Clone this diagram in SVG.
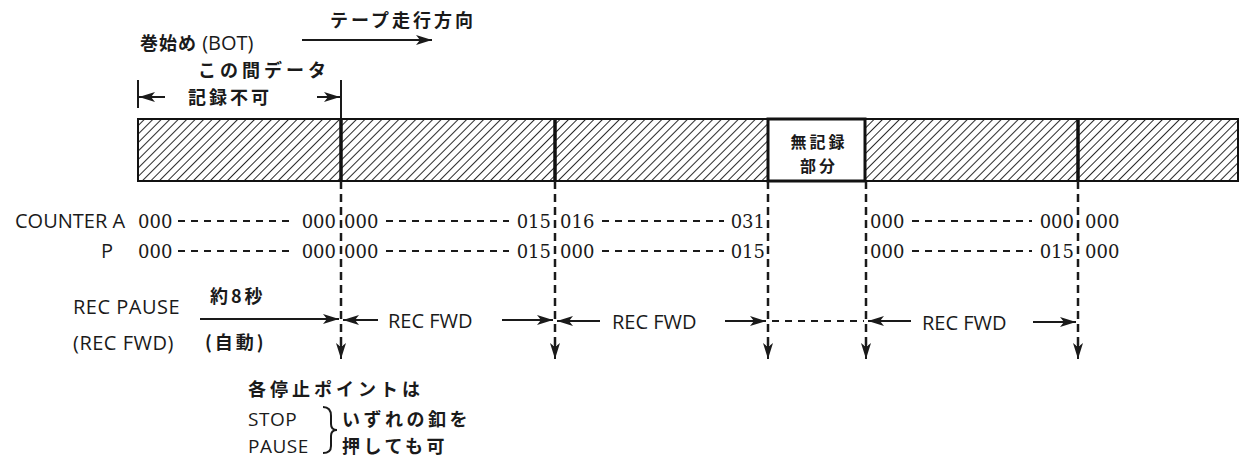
<svg xmlns="http://www.w3.org/2000/svg" width="1246" height="461" viewBox="0 0 1246 461">
<style>
.jp{font-family:"Noto Sans CJK JP","Noto Sans",sans-serif;font-size:18px;fill:#1a1a1a;font-weight:bold}
.sn{font-family:"Open Sans","Noto Sans",sans-serif;font-size:20px;fill:#1a1a1a}
.num{font-family:"DejaVu Serif","Liberation Serif",serif;font-size:18px;fill:#1a1a1a}
.thin{stroke:#1a1a1a;stroke-width:2;fill:none}
.div{stroke:#111;stroke-width:3.5}
.vd{stroke:#1a1a1a;stroke-width:2.5;stroke-dasharray:8 5;fill:none}
.hd{stroke:#1a1a1a;stroke-width:2;stroke-dasharray:7 6;fill:none}
</style>
<defs>
<pattern id="hatch" patternUnits="userSpaceOnUse" width="6" height="6" patternTransform="rotate(45)">
<rect width="6" height="6" fill="#fff"/>
<line x1="0" y1="0" x2="0" y2="6" stroke="#111" stroke-width="1.8"/>
</pattern>
<marker id="ah" viewBox="0 0 16 10" refX="16" refY="5" markerWidth="16" markerHeight="10" markerUnits="userSpaceOnUse" orient="auto">
<path d="M0,0 L16,5 L0,10 L4,5 Z" fill="#1a1a1a"/>
</marker>
</defs>

<g id="title">
<text class="jp" x="330" y="27" style="letter-spacing:3px">テープ走行方向</text>
<line class="thin" x1="302" y1="40" x2="432" y2="40" marker-end="url(#ah)"/>
</g>

<g id="bot">
<text class="jp" x="140" y="50" style="letter-spacing:1px">巻始め<tspan class="sn" style="font-weight:normal;letter-spacing:0"> (BOT)</tspan></text>
<text class="jp" x="198" y="77" style="letter-spacing:4px">この間データ</text>
<text class="jp" x="188" y="104" style="letter-spacing:3px">記録不可</text>
<line class="thin" x1="138" y1="80" x2="138" y2="108"/>
<line class="thin" x1="165" y1="97" x2="139" y2="97" marker-end="url(#ah)"/>
<line class="thin" x1="317" y1="97" x2="340" y2="97" marker-end="url(#ah)"/>
<line class="thin" x1="341" y1="80" x2="341" y2="119"/>
</g>

<g id="tape">
<rect x="138" y="119" width="1100" height="62" fill="url(#hatch)" stroke="#111" stroke-width="2"/>
<rect x="768" y="119" width="97" height="62" fill="#fff" stroke="#111" stroke-width="3"/>
<line class="div" x1="341" y1="119" x2="341" y2="181"/>
<line class="div" x1="555" y1="119" x2="555" y2="181"/>
<line class="div" x1="1078" y1="119" x2="1078" y2="181"/>
<text class="jp" x="819" y="148" text-anchor="middle" style="font-size:16px;letter-spacing:3px">無記録</text>
<text class="jp" x="819" y="172" text-anchor="middle" style="font-size:16px;letter-spacing:3px">部分</text>
</g>

<g id="counters">
<text class="sn" x="15" y="228">COUNTER A</text>
<text class="sn" x="101" y="258">P</text>
<g class="num">
<text x="138" y="228">000</text><text x="336" y="228" text-anchor="end">000</text>
<text x="344" y="228">000</text><text x="551" y="228" text-anchor="end">015</text>
<text x="560" y="228">016</text><text x="765" y="228" text-anchor="end">031</text>
<text x="870" y="228">000</text><text x="1074" y="228" text-anchor="end">000</text>
<text x="1085" y="228">000</text>
<text x="138" y="258">000</text><text x="336" y="258" text-anchor="end">000</text>
<text x="344" y="258">000</text><text x="551" y="258" text-anchor="end">015</text>
<text x="560" y="258">000</text><text x="765" y="258" text-anchor="end">015</text>
<text x="870" y="258">000</text><text x="1074" y="258" text-anchor="end">015</text>
<text x="1085" y="258">000</text>
</g>
</g>

<g id="connectors">
<path class="hd" d="M178,221 H292 M386,221 H509 M602,221 H724 M912,221 H1032 M178,251 H292 M386,251 H509 M602,251 H724 M912,251 H1032"/>
<path class="vd" d="M341,181 V346 M555,181 V346 M768,181 V346 M866,181 V346 M1078,181 V346"/>
<line class="thin" x1="341" y1="338" x2="341" y2="359" marker-end="url(#ah)"/>
<line class="thin" x1="555" y1="338" x2="555" y2="359" marker-end="url(#ah)"/>
<line class="thin" x1="768" y1="338" x2="768" y2="359" marker-end="url(#ah)"/>
<line class="thin" x1="866" y1="338" x2="866" y2="359" marker-end="url(#ah)"/>
<line class="thin" x1="1078" y1="338" x2="1078" y2="359" marker-end="url(#ah)"/>
<line class="thin" x1="200" y1="319" x2="339" y2="319" marker-end="url(#ah)"/>
<line class="thin" x1="378" y1="320" x2="343" y2="320" marker-end="url(#ah)"/>
<line class="thin" x1="502" y1="320" x2="553" y2="320" marker-end="url(#ah)"/>
<line class="thin" x1="600" y1="321" x2="557" y2="321" marker-end="url(#ah)"/>
<line class="thin" x1="725" y1="321" x2="766" y2="321" marker-end="url(#ah)"/>
<line class="hd" x1="772" y1="321" x2="864" y2="321"/>
<line class="thin" x1="911" y1="321" x2="868" y2="321" marker-end="url(#ah)"/>
<line class="thin" x1="1033" y1="322" x2="1076" y2="322" marker-end="url(#ah)"/>
</g>

<g id="labels">
<text class="sn" x="73" y="314" style="letter-spacing:0.5px">REC PAUSE</text>
<text class="sn" x="73" y="350" style="letter-spacing:0.5px">(REC  FWD)</text>
<text class="jp" x="210" y="303" style="letter-spacing:3px">約8秒</text>
<text class="jp" x="205" y="349" style="letter-spacing:3px">(自動)</text>
<text class="sn" x="388" y="328">REC  FWD</text>
<text class="sn" x="612" y="329">REC  FWD</text>
<text class="sn" x="922" y="330">REC  FWD</text>
</g>

<g id="note">
<text class="jp" x="248" y="396" style="letter-spacing:4px">各停止ポイントは</text>
<text class="sn" x="248" y="426" style="font-size:19px;letter-spacing:0.5px">STOP</text>
<text class="sn" x="248" y="453" style="font-size:19px;letter-spacing:0.5px">PAUSE</text>
<path class="thin" d="M323,407 Q331,407 331,416 L331,424 Q331,430 337,430 Q331,430 331,436 L331,446 Q331,453 323,453"/>
<text class="jp" x="342" y="426" style="letter-spacing:3.5px">いずれの釦を</text>
<text class="jp" x="342" y="453" style="letter-spacing:3.5px">押しても可</text>
</g>
</svg>
